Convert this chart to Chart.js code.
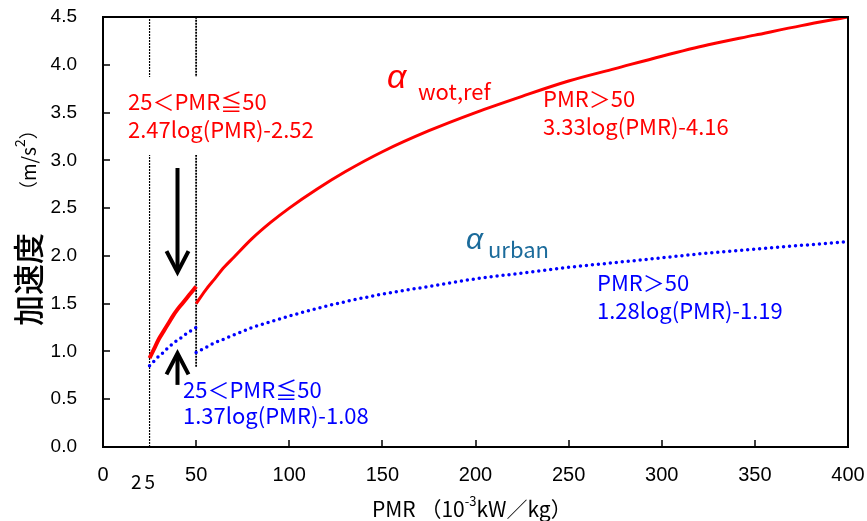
<!DOCTYPE html>
<html>
<head>
<meta charset="utf-8">
<script src="https://cdn.jsdelivr.net/npm/chart.js@4"></script>
<style>
  html, body { margin: 0; padding: 0; background: #fff; }
</style>
</head>
<body>
<canvas id="myChart" width="867" height="521"></canvas>
<script>
'use strict';

// PMR break points and the two acceleration curves (m/s2)
const pmrLow = [25, 27.5, 30, 32.5, 35, 37.5, 40, 42.5, 45, 47.5, 50];
const pmrHigh = [50, 55, 60, 65, 70, 80, 90, 100, 115, 130, 150, 175, 200, 225, 250, 275, 300, 325, 350, 375, 400];
const wotLow = [0.93, 1.03, 1.13, 1.21, 1.29, 1.37, 1.44, 1.50, 1.56, 1.62, 1.68];
const wotHigh = [1.50, 1.64, 1.76, 1.88, 1.98, 2.18, 2.35, 2.50, 2.70, 2.88, 3.09, 3.31, 3.50, 3.67, 3.83, 3.96, 4.09, 4.21, 4.31, 4.41, 4.50];
const urbanLow = [0.85, 0.90, 0.95, 0.99, 1.04, 1.08, 1.12, 1.15, 1.19, 1.22, 1.25];
const urbanHigh = [0.99, 1.04, 1.09, 1.13, 1.17, 1.25, 1.31, 1.37, 1.45, 1.52, 1.60, 1.68, 1.76, 1.82, 1.88, 1.93, 1.98, 2.03, 2.07, 2.11, 2.15];

// range borders at PMR 25 and 50
const borderPmr = [25, 50];
const borderTop = [4.5, 4.5];
const borderBottom = [0, 0.84];

// arrows pointing at the two low-range curves
const arrowPmr = [40, 40];
const arrowFrom = [2.92, 0.65];
const arrowTo = [1.83, 0.98];

const xTicks = [0, 50, 100, 150, 200, 250, 300, 350, 400];
const yTicks = [0, 0.5, 1, 1.5, 2, 2.5, 3, 3.5, 4, 4.5];

const jp = '"Noto Sans CJK JP", "Noto Sans", sans-serif';
const latin = '"Liberation Sans", Arial, sans-serif';
const RED = '#ff0000';
const BLUE = '#0000ff';
const TEAL = '#1b6b9b';

function points(xs, ys) {
    return xs.map((x, i) => ({ x: x, y: ys[i] }));
}

function drawArrow(ctx, x, y0, y1) {
    const dir = y1 > y0 ? 1 : -1;
    ctx.save();
    ctx.strokeStyle = '#000';
    ctx.lineWidth = 4;
    ctx.beginPath();
    ctx.moveTo(x, y0);
    ctx.lineTo(x, y1 - dir * 2);
    ctx.stroke();
    ctx.beginPath();
    ctx.moveTo(x - 11, y1 - dir * 21);
    ctx.lineTo(x, y1);
    ctx.lineTo(x + 11, y1 - dir * 21);
    ctx.stroke();
    ctx.restore();
}

// draws runs of [text, font, dy] one after another, returns end x
function drawRuns(ctx, x, y, runs) {
    runs.forEach(r => {
        ctx.font = r[1];
        ctx.fillText(r[0], x, y + (r[2] || 0));
        x += ctx.measureText(r[0]).width;
    });
    return x;
}

const labelsPlugin = {
    id: 'labels',
    afterDatasetsDraw(chart) {
        const ctx = chart.ctx;
        const area = chart.chartArea;
        const xs = chart.scales.x;
        const ys = chart.scales.y;

        // white backing behind the formula blocks
        ctx.save();
        ctx.fillStyle = '#fff';
        ctx.fillRect(124, 77, 200, 78);
        ctx.fillRect(182, 368, 200, 70);

        ctx.textBaseline = 'middle';
        ctx.textAlign = 'left';
        ctx.fillStyle = RED;
        ctx.font = '22px ' + jp;
        ctx.fillText('25＜PMR≦50', 128, 102);
        ctx.fillText('2.47log(PMR)-2.52', 128, 130);
        ctx.fillText('PMR＞50', 543, 99);
        ctx.fillText('3.33log(PMR)-4.16', 543, 127);

        ctx.fillStyle = BLUE;
        ctx.fillText('PMR＞50', 597, 283);
        ctx.fillText('1.28log(PMR)-1.19', 597, 311);
        ctx.fillText('25＜PMR≦50', 183, 390);
        ctx.fillText('1.37log(PMR)-1.08', 183, 416);

        // curve names
        ctx.textBaseline = 'alphabetic';
        ctx.fillStyle = RED;
        ctx.font = 'italic 34px ' + latin;
        ctx.fillText('α', 387, 88);
        ctx.font = '22px ' + jp;
        ctx.fillText('wot,ref', 418, 100);
        ctx.fillStyle = TEAL;
        ctx.font = 'italic 30px ' + latin;
        ctx.fillText('α', 466, 249);
        ctx.font = '22px ' + jp;
        ctx.fillText('urban', 488, 258);
        ctx.restore();

        arrowPmr.forEach((p, i) => {
            drawArrow(ctx, xs.getPixelForValue(p), ys.getPixelForValue(arrowFrom[i]), ys.getPixelForValue(arrowTo[i]));
        });

        // frame and inward tick marks
        ctx.save();
        ctx.strokeStyle = '#000';
        ctx.lineWidth = 2;
        ctx.strokeRect(area.left, area.top, area.right - area.left, area.bottom - area.top);
        ctx.beginPath();
        yTicks.forEach(v => {
            const py = Math.round(ys.getPixelForValue(v));
            ctx.moveTo(area.left, py);
            ctx.lineTo(area.left + 7, py);
        });
        xTicks.forEach(v => {
            const px = Math.round(xs.getPixelForValue(v));
            ctx.moveTo(px, area.bottom);
            ctx.lineTo(px, area.bottom - 7);
        });
        ctx.lineWidth = 1.5;
        ctx.stroke();
        ctx.restore();
    },
    afterDraw(chart) {
        const ctx = chart.ctx;
        const xs = chart.scales.x;
        ctx.save();
        ctx.fillStyle = '#000';
        ctx.textBaseline = 'middle';

        // extra 25 label under the range border
        ctx.textAlign = 'center';
        ctx.font = '19px ' + jp;
        ctx.letterSpacing = '3px';
        ctx.fillText('25', xs.getPixelForValue(25) - 5, 482);
        ctx.letterSpacing = '0px';

        // x axis title
        ctx.textAlign = 'left';
        drawRuns(ctx, 372, 509, [
            ['PMR （10', '21px ' + jp],
            ['-3', '13px ' + jp, -8],
            ['kW／kg）', '21px ' + jp]
        ]);

        // y axis title, rotated
        ctx.translate(28, 326);
        ctx.rotate(-Math.PI / 2);
        ctx.font = '500 31px ' + jp;
        ctx.fillText('加速度', 0, 0);
        drawRuns(ctx, 126, 1, [
            ['（m/s', '19px ' + jp],
            ['2', '14px ' + jp, -9],
            ['）', '19px ' + jp]
        ]);
        ctx.restore();
    }
};

const canvasEl = document.getElementById('myChart');

function lineSet(data, color, dotted, width) {
    return {
        data: data,
        borderColor: color,
        borderWidth: width,
        borderDash: dotted ? [0, 6] : [],
        borderCapStyle: dotted ? 'round' : 'butt',
        pointRadius: 0,
        fill: false,
        cubicInterpolationMode: 'monotone'
    };
}

const datasets = [
    lineSet(points(pmrLow, wotLow), RED, false, 4),
    lineSet(points(pmrHigh, wotHigh), RED, false, 3),
    lineSet(points(pmrLow, urbanLow), BLUE, true, 3.5),
    lineSet(points(pmrHigh, urbanHigh), BLUE, true, 3.5)
];
borderPmr.forEach((p, i) => {
    datasets.push({
        data: [{ x: p, y: borderBottom[i] }, { x: p, y: borderTop[i] }],
        borderColor: '#000',
        borderWidth: i === 0 ? 1.2 : 1.8,
        borderDash: [2, 1],
        pointRadius: 0,
        fill: false,
        order: 5
    });
});

new Chart(canvasEl, {
    type: 'line',
    data: { datasets: datasets },
    options: {
        responsive: false,
        animation: false,
        layout: { padding: { top: 17, right: 19, left: 0, bottom: 0 } },
        plugins: {
            legend: { display: false },
            tooltip: { enabled: false }
        },
        scales: {
            x: {
                type: 'linear',
                min: 0,
                max: 400,
                afterBuildTicks: s => { s.ticks = xTicks.map(v => ({ value: v })); },
                afterFit: s => {
                    s.height = 74;
                    s.paddingLeft = 0;
                    s.paddingRight = 0;
                },
                grid: { display: false, drawTicks: false },
                border: { display: false },
                ticks: {
                    color: '#000',
                    padding: 16,
                    maxRotation: 0,
                    autoSkip: false,
                    font: { family: latin, size: 20 }
                }
            },
            y: {
                type: 'linear',
                min: 0,
                max: 4.5,
                afterBuildTicks: s => { s.ticks = yTicks.map(v => ({ value: v })); },
                afterFit: s => {
                    s.width = 103;
                    s.paddingTop = 0;
                    s.paddingBottom = 0;
                },
                grid: { display: false, drawTicks: false },
                border: { display: false },
                ticks: {
                    color: '#000',
                    padding: 26,
                    autoSkip: false,
                    callback: v => Number(v).toFixed(1),
                    font: { family: latin, size: 19 }
                }
            }
        }
    },
    plugins: [labelsPlugin]
});
</script>
</body>
</html>
